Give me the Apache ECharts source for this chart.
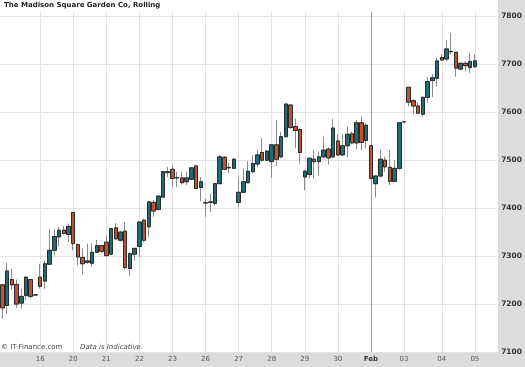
<!DOCTYPE html>
<html><head><meta charset="utf-8">
<script src="https://cdn.jsdelivr.net/npm/echarts@6/dist/echarts.min.js"></script>
<style>html,body{margin:0;padding:0;background:#fff}#c{width:525px;height:367px}</style>
</head><body><div id="c"></div>
<script>
const dayNames = ['Jan 14','Jan 15','Jan 16','Jan 20','Jan 21','Jan 22','Jan 23','Jan 26','Jan 27','Jan 28','Jan 29','Jan 30','Feb 02','Feb 03','Feb 04','Feb 05'];
const barsPerDay = [1,7,7,7,7,7,7,7,7,7,7,7,7,8,7,1];
const dayLabels = ['','','16','20','21','22','23','26','27','28','29','30','Feb','03','04','05'];
const yTicks = [7100,7200,7300,7400,7500,7600,7700,7800];

const opens = [7240,7197,7251,7241,7202,7218,7251,7219,7256,7248,7283,7312,7340,7354,7345,7391,7324,7297,7287,7285,7308,7322,7329,7304,7359,7333,7352,7274,7304,7320,7375,7361,7412,7397,7423,7474,7481,7463,7463,7455,7460,7488,7443,7411,7412,7410,7451,7506,7484,7483,7412,7433,7453,7476,7492,7516,7500,7497,7532,7507,7549,7615,7570,7564,7465,7470,7502,7497,7507,7523,7507,7540,7511,7530,7555,7536,7578,7541,7530,7451,7467,7500,7485,7456,7483,7580,7652,7624,7613,7596,7631,7666,7671,7714,7711,7727,7725,7690,7702,7693,7695];
const closes = [7192,7269,7240,7200,7216,7256,7216,7219,7237,7284,7312,7341,7354,7347,7362,7326,7298,7284,7290,7308,7322,7310,7301,7357,7336,7350,7276,7305,7316,7371,7333,7413,7394,7425,7476,7476,7462,7464,7453,7463,7484,7441,7455,7411,7413,7451,7507,7481,7485,7502,7433,7455,7477,7493,7511,7500,7519,7532,7502,7549,7617,7568,7562,7516,7477,7504,7497,7507,7521,7505,7567,7511,7530,7554,7536,7578,7537,7573,7462,7467,7502,7486,7456,7483,7578,7580,7621,7613,7598,7631,7664,7672,7707,7709,7732,7726,7692,7702,7697,7706,7707];
const lows = [7169,7179,7230,7192,7190,7209,7212,7218,7232,7232,7282,7301,7320,7345,7329,7312,7281,7262,7284,7278,7306,7306,7299,7302,7334,7330,7272,7259,7291,7298,7329,7340,7382,7396,7422,7465,7444,7444,7449,7448,7458,7440,7415,7382,7392,7406,7450,7479,7472,7482,7403,7432,7452,7472,7486,7497,7498,7463,7488,7504,7548,7566,7525,7493,7437,7462,7462,7469,7505,7491,7505,7509,7509,7506,7533,7523,7521,7525,7460,7422,7464,7476,7448,7455,7480,7579,7612,7596,7596,7591,7620,7632,7654,7707,7706,7720,7674,7687,7685,7682,7692];
const highs = [7242,7286,7274,7251,7232,7258,7252,7220,7284,7290,7357,7357,7361,7363,7368,7392,7326,7316,7326,7326,7334,7323,7343,7358,7369,7353,7371,7307,7318,7373,7378,7415,7417,7427,7478,7486,7490,7476,7476,7476,7486,7489,7465,7420,7430,7453,7511,7508,7495,7504,7465,7483,7498,7511,7521,7546,7521,7533,7584,7559,7619,7617,7587,7566,7480,7505,7521,7518,7549,7527,7586,7554,7554,7570,7560,7584,7591,7577,7531,7468,7523,7507,7521,7500,7579,7581,7653,7627,7621,7633,7674,7679,7713,7721,7751,7765,7726,7704,7706,7723,7721];

const categories = [];
const tickLabels = [];
dayNames.forEach((d, k) => {
  for (let j = 0; j < barsPerDay[k]; j++) {
    categories.push(d + ' #' + (j + 1));
    tickLabels.push(j === 0 ? dayLabels[k] : '');
  }
});
for (let j = 0; j < 4; j++) { categories.push('pad ' + j); tickLabels.push(''); }

const fullData = opens.map((o, i) => [o, closes[i], lows[i], highs[i]]);
const bodyData = opens.map((o, i) => [o, closes[i], Math.min(o, closes[i]), Math.max(o, closes[i])]);

const TEAL = '#1f6c74', ORANGE = '#c2522d';
const FONT = 'DejaVu Sans, Verdana, sans-serif';

const chart = echarts.init(document.getElementById('c'), null, {renderer: 'canvas'});
chart.setOption({
  animation: false,
  backgroundColor: '#ffffff',
  title: {
    text: 'The Madison Square Garden Co, Rolling',
    left: 4, top: 2, padding: 0,
    textStyle: {fontFamily: FONT, fontSize: 7, fontWeight: 'bold', color: '#222'}
  },
  graphic: [
    {type: 'rect', z: -10, shape: {x: 498, y: 0, width: 27, height: 367}, style: {fill: '#dcdcdc'}, silent: true},
    {type: 'rect', z: -10, shape: {x: 0, y: 352, width: 498, height: 15}, style: {fill: '#dcdcdc'}, silent: true},
    {type: 'text', z: 10, left: 1, top: 344, style: {text: '\u00a9 IT-Finance.com', font: '7px ' + FONT, fill: '#444'}},
    {type: 'text', z: 10, left: 80, top: 344, style: {text: 'Data is Indicative.', font: 'italic 7px ' + FONT, fill: '#444'}}
  ],
  grid: {left: 0, right: 27, top: 12, bottom: 15, containLabel: false},
  xAxis: [{
    type: 'category', data: categories, boundaryGap: true,
    axisLine: {show: false}, axisTick: {show: false},
    axisLabel: {
      interval: (i) => tickLabels[i] !== '',
      formatter: (v, i) => tickLabels[i] === 'Feb' ? '{b|Feb}' : tickLabels[i],
      fontFamily: FONT, fontSize: 7, color: '#555', margin: 4,
      rich: {b: {fontFamily: FONT, fontSize: 7, fontWeight: 'bold', color: '#333'}}
    },
    splitLine: {show: true, alignWithLabel: true,
      interval: (i) => tickLabels[i] !== '' && tickLabels[i] !== 'Feb',
      lineStyle: {color: '#e2e2e2', width: 1}}
  }, {
    type: 'category', data: categories, boundaryGap: true, position: 'top',
    axisLine: {show: false}, axisTick: {show: false}, axisLabel: {show: false},
    splitLine: {show: true, alignWithLabel: true,
      interval: (i) => tickLabels[i] === 'Feb',
      lineStyle: {color: '#9a9a9a', width: 1}}
  }],
  yAxis: {
    type: 'value', position: 'right', min: yTicks[0], max: 7809, interval: 100,
    axisLine: {show: false}, axisTick: {show: false},
    axisLabel: {showMaxLabel: false, formatter: (v) => String(v), fontFamily: FONT, fontSize: 7.5, fontWeight: 'bold', color: '#333', margin: 5},
    splitLine: {show: true, showMaxLine: false, lineStyle: {color: '#e2e2e2', width: 1}}
  },
  series: [{
    type: 'candlestick', data: fullData, barWidth: 4,
    itemStyle: {color: TEAL, color0: ORANGE, borderColor: '#8a8a8a', borderColor0: '#8a8a8a', borderColorDoji: '#8a8a8a', borderWidth: 1}
  }, {
    type: 'candlestick', data: bodyData, barWidth: 4,
    itemStyle: {color: TEAL, color0: ORANGE, borderColor: '#2b2b2b', borderColor0: '#2b2b2b', borderColorDoji: '#2b2b2b', borderWidth: 1}
  }]
});
</script></body></html>
